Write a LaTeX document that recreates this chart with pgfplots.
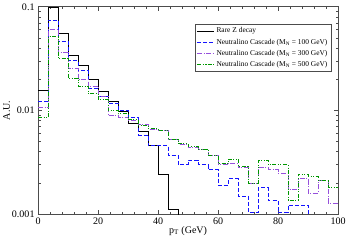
\documentclass[border=0pt]{standalone}
\usepackage{fontspec}
\setmainfont{Liberation Serif}
\usepackage{pgfplots}
\pgfplotsset{compat=1.18}
\definecolor{cblue}{RGB}{20,20,255}
\definecolor{cpurple}{RGB}{150,80,220}
\definecolor{cgreen}{RGB}{0,150,0}
\begin{document}
\begin{tikzpicture}[x=1bp,y=1bp]
\begin{axis}[
  scale only axis,
  width=298bp, height=206bp,
  xmin=0, xmax=100,
  ymode=log, ymin=0.001, ymax=0.1,
  xtick={0,20,40,60,80,100},
  minor x tick num=4,
  ytick={0.001,0.01,0.1},
  yticklabels={0.001,0.01,0.1},
  /pgf/number format/assume math mode=true,
  tick label style={font=\fontsize{10}{11}\selectfont},
  label style={font=\fontsize{10}{11}\selectfont},
  xlabel={p$_\mathrm{T}$ (GeV)},
  ylabel={A.U.},
  xlabel style={yshift=5bp},
  ylabel style={yshift=-5bp},
  axis line style={black!70, line width=0.9pt},
  major tick length=4bp, minor tick length=2.5bp,
  every tick/.style={black!70, line width=0.6pt},
  clip=true,
  legend cell align=left,
  legend style={at={(0.977,0.917)}, anchor=north east, font=\fontsize{7.4}{8.5}\selectfont,
    draw=black!70, line width=0.6pt, inner sep=1.5pt, row sep=0.5bp},
  legend image post style={line width=0.8pt},
]
\addplot[const plot, black, line width=1pt] coordinates {
(0,0.0155) (3.333,0.098) (6.667,0.0555) (10,0.034) (13.333,0.0273) (16.667,0.020)
(20,0.0151) (23.333,0.0122) (26.667,0.0097) (30,0.0075) (33.333,0.0063) (36.667,0.0046)
(40,0.0024) (43.333,0.00111) (46.667,0.00001)
};
\addlegendentry{Rare Z decay}
\addplot[const plot, cblue, line width=0.8pt, dash pattern=on 4bp off 2bp] coordinates {
(0,0.0121) (3.333,0.0743) (6.667,0.046) (10,0.0306) (13.333,0.0241) (16.667,0.0165)
(20,0.0138) (23.333,0.0118) (26.667,0.0100) (30,0.0085) (33.333,0.0058) (36.667,0.0046)
(40,0.0046) (43.333,0.0037) (46.667,0.0030) (50,0.0033) (53.333,0.0030) (56.667,0.0027)
(60,0.0019) (63.333,0.0022) (66.667,0.0015) (70,0.00104) (73.333,0.0018) (76.667,0.00135)
(80,0.00103) (83.333,0.00122) (86.667,0.00122) (90,0.00001)
};
\addlegendentry{Neutralino Cascade (M$_\mathrm{N}$ = 100 GeV)}
\addplot[const plot, cpurple, line width=0.8pt, dash pattern=on 5bp off 1.5bp on 1bp off 1.5bp] coordinates {
(0,0.0106) (3.333,0.0607) (6.667,0.0363) (10,0.0256) (13.333,0.0199) (16.667,0.0171)
(20,0.0138) (23.333,0.0089) (26.667,0.0085) (30,0.0080) (33.333,0.0073) (36.667,0.0066)
(40,0.0064) (43.333,0.0053) (46.667,0.0047) (50,0.0044) (53.333,0.0042) (56.667,0.0037)
(60,0.0030) (63.333,0.0031) (66.667,0.0028) (70,0.0020) (73.333,0.0028) (76.667,0.0027)
(80,0.0025) (83.333,0.00175) (86.667,0.0022) (90,0.0016) (93.333,0.0021) (96.667,0.00128)
(100,0.00128)
};
\addlegendentry{Neutralino Cascade (M$_\mathrm{N}$ = 300 GeV)}
\addplot[const plot, cgreen, line width=0.8pt, dash pattern=on 4bp off 1.5bp on 1bp off 1.5bp on 1bp off 1.5bp] coordinates {
(0,0.0085) (3.333,0.0515) (6.667,0.0315) (10,0.0206) (13.333,0.0172) (16.667,0.0145)
(20,0.0127) (23.333,0.0100) (26.667,0.0093) (30,0.0082) (33.333,0.0072) (36.667,0.0067)
(40,0.0064) (43.333,0.0053) (46.667,0.0048) (50,0.0045) (53.333,0.0042) (56.667,0.0037)
(60,0.0031) (63.333,0.0034) (66.667,0.0029) (70,0.0020) (73.333,0.0033) (76.667,0.0030)
(80,0.0030) (83.333,0.00137) (86.667,0.0024) (90,0.0023) (93.333,0.0021) (96.667,0.0018)
(100,0.0018)
};
\addlegendentry{Neutralino Cascade (M$_\mathrm{N}$ = 500 GeV)}
\end{axis}
\end{tikzpicture}
\end{document}
